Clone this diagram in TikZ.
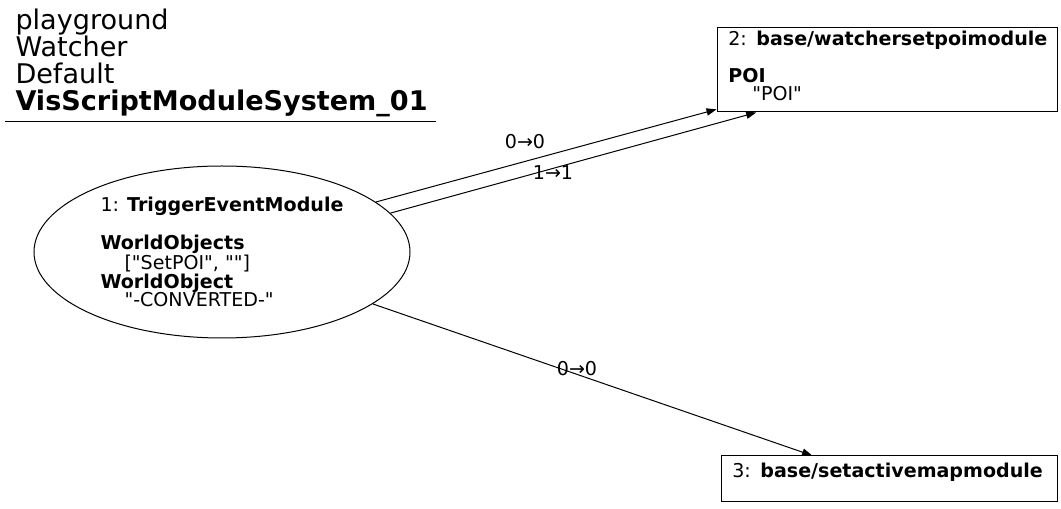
\documentclass[tikz,border=0pt]{standalone}
\usepackage{fontspec}
\setmainfont{DejaVu Sans}[Ligatures=TeXOff]
\usetikzlibrary{arrows.meta,shapes.geometric}

\begin{document}
\begin{tikzpicture}[x=0.75pt,y=-0.75pt, line width=0.75pt, every node/.style={font=\fontsize{14.3pt}{13.8pt}\selectfont},
  mod/.style={draw,rectangle,align=left,inner xsep=8.5pt,inner ysep=0pt},
  ell/.style={draw,ellipse,align=left,inner sep=0pt,minimum width=282pt,minimum height=129pt},
  lbl/.style={inner sep=1pt},
  link/.style={-{Triangle[length=7.5pt,width=5.5pt]}}]
\useasboundingbox (0,0) rectangle (1061,509);
% title block
\node[align=left,anchor=north west,inner sep=0pt,font=\fontsize{20.3pt}{20.25pt}\selectfont] (title) at (15,8)
  {playground\\Watcher\\Default\\\textbf{VisScriptModuleSystem\_01}};
\draw (5,122) -- (436,122);
% modules
\node[ell] (trig) at (222,252) {1: \textbf{TriggerEventModule}\\[13.8pt]
  \textbf{WorldObjects}\\\hspace*{18pt}["SetPOI", ""]\\
  \textbf{WorldObject}\\\hspace*{18pt}"-CONVERTED-"};
\node[mod,text width=238pt,minimum width=255pt,minimum height=63pt] (poi) at (887,70)
  {\mbox{2: \textbf{base/watchersetpoimodule}}\\[13.8pt]\textbf{POI}\\\hspace*{18pt}"POI"\\[-8pt]\mbox{}};
\node[mod,text width=235pt,minimum width=252pt,minimum height=34.5pt] (map) at (889,479)
  {\mbox{3: \textbf{base/setactivemapmodule}}\\\mbox{}};
% links
\draw[link] (trig.18) -- (poi.193);
\draw[link] (trig.13) -- (poi.198);
\draw[link] (trig.-19) -- (map.163);
\node[lbl] (l00) at (525,142) {0→0};
\node[lbl] (l11) at (553,173) {1→1};
\node[lbl] (l00b) at (577,369) {0→0};
\end{tikzpicture}
\end{document}
